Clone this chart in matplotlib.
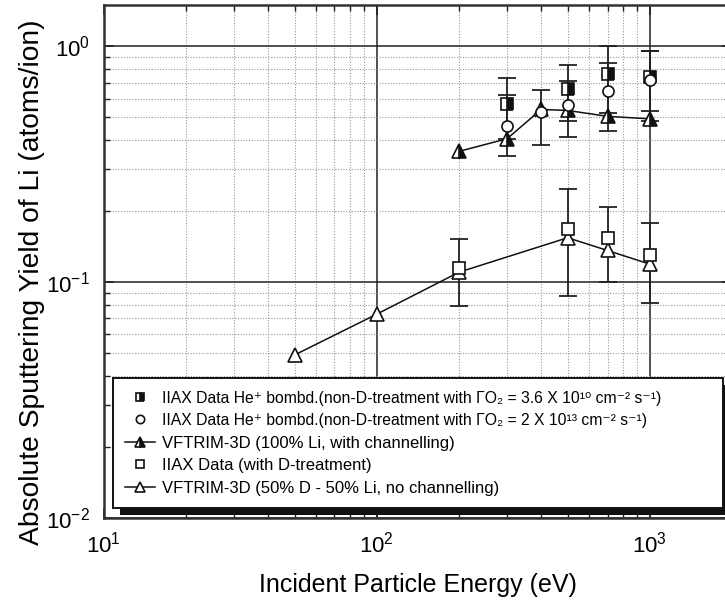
import matplotlib
matplotlib.use("Agg")
import matplotlib.pyplot as plt
import numpy as np
from matplotlib.patches import Rectangle
from matplotlib.ticker import LogLocator

plt.rcParams['font.family'] = ['Liberation Sans', 'DejaVu Sans']
plt.rcParams['mathtext.fontset'] = 'custom'
plt.rcParams['mathtext.rm'] = 'Liberation Sans'
plt.rcParams['mathtext.it'] = 'Liberation Sans:italic'

# IIAX He+ bombardment, non-D-treated, Gamma_O2 = 3.6e10
e_o2_low = [300, 500, 700, 1000]
y_o2_low = [0.57, 0.66, 0.759, 0.739]
lo_o2_low = [0.405, 0.484, 0.52, 0.53]
hi_o2_low = [0.735, 0.831, 1.0, 0.952]

# IIAX He+ bombardment, non-D-treated, Gamma_O2 = 2e13
e_o2_high = [300, 400, 500, 700, 1000]
y_o2_high = [0.458, 0.525, 0.561, 0.643, 0.716]
lo_o2_high = [0.341, 0.380, 0.411, 0.435, 0.48]
hi_o2_high = [0.618, 0.655, 0.709, 0.847, 0.95]

# VFTRIM-3D, 100% Li with channelling
e_trim_li = [200, 300, 400, 500, 700, 1000]
y_trim_li = [0.358, 0.405, 0.539, 0.534, 0.504, 0.492]

# IIAX with D-treatment
e_dtreat = [200, 500, 700, 1000]
y_dtreat = [0.115, 0.168, 0.1536, 0.130]
lo_dtreat = [0.0789, 0.0875, 0.1, 0.0818]
hi_dtreat = [0.152, 0.249, 0.207, 0.177]

# VFTRIM-3D, 50% D - 50% Li, no channelling
e_trim_dli = [50, 100, 200, 500, 700, 1000]
y_trim_dli = [0.049, 0.073, 0.110, 0.154, 0.136, 0.119]

labels = [
    'IIAX Data He\u207a bombd.(non-D-treatment with \u0393O\u2082 = 3.6 X 10\u00b9\u2070 cm\u207b\u00b2 s\u207b\u00b9)',
    'IIAX Data He\u207a bombd.(non-D-treatment with \u0393O\u2082 = 2 X 10\u00b9\u00b3 cm\u207b\u00b2 s\u207b\u00b9)',
    'VFTRIM-3D (100% Li, with channelling)',
    'IIAX Data (with D-treatment)',
    'VFTRIM-3D (50% D - 50% Li, no channelling)',
]


def yerr(y, lo, hi):
    y = np.array(y)
    return [y - np.array(lo), np.array(hi) - y]


def main():
    fig = plt.figure(figsize=(7.25, 6.03), dpi=100)
    ax = fig.add_axes([103.7 / 725, 1 - 517.7 / 603, 628.3 / 725, 513 / 603])

    ekw = dict(ecolor='#222222', elinewidth=1.3, capsize=6.5, capthick=1.3)
    mkw = dict(color='#111111', markeredgecolor='#111111', markeredgewidth=1.2)

    ax.errorbar(e_o2_high, y_o2_high, yerr=yerr(y_o2_high, lo_o2_high, hi_o2_high),
                fmt='none', zorder=2, **ekw)
    ax.errorbar(e_o2_low, y_o2_low, yerr=yerr(y_o2_low, lo_o2_low, hi_o2_low),
                fmt='none', zorder=2, **ekw)
    ax.errorbar(e_dtreat, y_dtreat, yerr=yerr(y_dtreat, lo_dtreat, hi_dtreat),
                fmt='none', zorder=2, **ekw)

    h1, = ax.plot(e_o2_low, y_o2_low, ls='none', marker='s', ms=8.5, fillstyle='right',
                  markerfacecolor='#111111', markerfacecoloralt='white', zorder=4, **mkw)
    h2, = ax.plot(e_o2_high, y_o2_high, ls='none', marker='o', ms=8,
                  markerfacecolor='white', zorder=4, **mkw)
    h3, = ax.plot(e_trim_li, y_trim_li, ls='-', lw=1.1, marker='^', ms=10, fillstyle='right',
                  markerfacecolor='#111111', markerfacecoloralt='white', zorder=3, **mkw)
    h4, = ax.plot(e_dtreat, y_dtreat, ls='none', marker='s', ms=8.5,
                  markerfacecolor='white', zorder=4, **mkw)
    h5, = ax.plot(e_trim_dli, y_trim_dli, ls='-', lw=1.1, marker='^', ms=10,
                  markerfacecolor='white', zorder=3, **mkw)

    ax.set_xscale('log')
    ax.set_yscale('log')
    ax.set_xlim(10, 2000)
    ax.set_ylim(0.01, 1.5)
    ax.xaxis.set_minor_locator(LogLocator(base=10, subs=np.arange(2, 10)))
    ax.yaxis.set_minor_locator(LogLocator(base=10, subs=np.arange(2, 10)))

    ax.grid(True, which='major', color='#222222', lw=1.1, ls='-')
    ax.grid(True, which='minor', color='#999999', lw=0.8, ls=(0, (1, 1.5)))
    ax.set_axisbelow(True)

    ax.tick_params(which='both', direction='in', top=True, right=True, colors='#222222',
                   labelcolor='black', labelsize=16)
    ax.tick_params(which='major', length=7, width=1.2, pad=10)
    ax.tick_params(which='minor', length=4, width=1.0)
    for sp in ax.spines.values():
        sp.set_linewidth(1.8)
        sp.set_color('#333333')

    ax.set_xlabel('Incident Particle Energy (eV)', fontsize=18, labelpad=11)
    ax.set_ylabel('Absolute Sputtering Yield of Li (atoms/ion)', fontsize=20.3)
    ax.yaxis.set_label_coords(-0.094, 0.459)

    leg = ax.legend([h1, h2, h3, h4, h5], labels, loc='upper left',
                    bbox_to_anchor=(0.0148, 0.0, 0.971, 0.272), mode='expand',
                    borderaxespad=0, fontsize=12, markerscale=0.75, handlelength=1.8,
                    handletextpad=0.4, labelspacing=0.45, fancybox=False, framealpha=1,
                    edgecolor='#111111', borderpad=0.75)
    leg.get_frame().set_linewidth(1.4)
    leg.set_zorder(6)
    for t in leg.get_texts()[:2]:
        t.set_fontsize(11.3)

    # offset black shadow under the legend box
    fig.canvas.draw()
    bb = leg.get_window_extent()
    inv = ax.transAxes.inverted()
    (x0, y0) = inv.transform((bb.x0 + 7, bb.y0 - 7))
    (x1, y1) = inv.transform((bb.x1 + 7, bb.y1 - 7))
    ax.add_patch(Rectangle((x0, y0), x1 - x0, y1 - y0, transform=ax.transAxes,
                           facecolor='#111111', edgecolor='none', zorder=5.5, clip_on=False))

    fig.savefig('out.png', dpi=100)


if __name__ == "__main__":
    main()
